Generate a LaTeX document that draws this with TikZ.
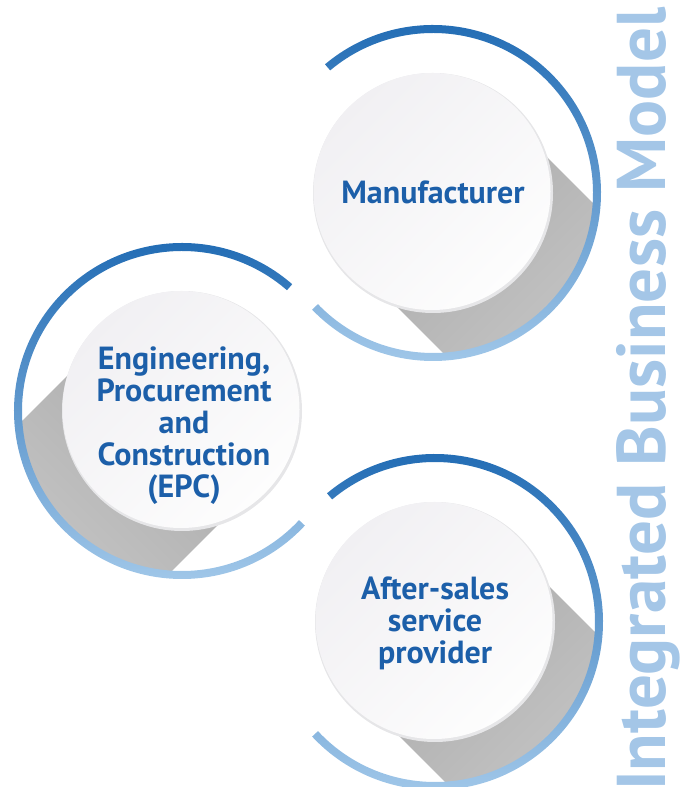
\documentclass[tikz,border=0pt]{standalone}
\usepackage{fontspec}
\setmainfont{PT Sans}
\definecolor{ringdark}{HTML}{1C68B2}
\definecolor{ringlight}{HTML}{A6CBEB}
\definecolor{labelblue}{HTML}{1C5FA9}
\definecolor{titleblue}{HTML}{A4C6E7}
\definecolor{discrim}{HTML}{E6E6E8}
\definecolor{disctop}{HTML}{F1F0F3}
\definecolor{discbottom}{HTML}{FDFDFD}

\begin{document}
\begin{tikzpicture}[x=1pt,y=1pt,
    rolelabel/.style={text=labelblue,font=\fontsize{32}{32}\selectfont\bfseries,align=center,inner sep=0pt},
    disc/.style={circle,minimum size=240pt,inner sep=0pt,fill=discrim}]

    \useasboundingbox (0,0) rectangle (687,787);

    % Long shadows, cut off by the rings
    \foreach \cx/\cy/\dir/\sh in {433/594/-45/45, 182/376/-135/-45, 435/165/-45/45} {
      \begin{scope}
        \clip (\cx,\cy) circle (163);
        \shade[top color=black!34,bottom color=black!22,shading angle=\sh]
          (\cx,\cy) ++(\dir+90:106) -- ++(\dir:175) -- ++(\dir-90:212) -- ++(\dir+180:175) -- cycle;
      \end{scope}
    }

    % Open rings, dark at the top and light at the bottom
    \foreach \cx/\cy/\s/\e in {433/594/130/-136, 182/376/49/317, 435/165/130/-137} {
      \shade[top color=ringdark,bottom color=ringlight]
        (\cx,\cy) ++(\s:168) arc[start angle=\s,end angle=\e,radius=168]
        -- ++(\e+180:8) arc[start angle=\e,end angle=\s,radius=160] -- cycle;
    }

    % White discs
    \node[disc] (manu)  at (433,594) {};
    \node[disc] (epc)   at (182,376) {};
    \node[disc] (after) at (435,165) {};
    \foreach \d in {manu,epc,after} {
      \shade[top color=disctop,bottom color=discbottom,shading angle=45]
        ([shift={(-1,1.5)}]\d.center) circle (118.5);
    }

    % Labels
    \node[rolelabel] (manutext)  at (433,595) {Manufacturer};
    \node[rolelabel] (epctext)   at (184,361) {Engineering,\\Procurement\\and\\Construction\\(EPC)};
    \node[rolelabel] (aftertext) at (435,164) {After-sales\\service\\provider};

    % Vertical title
    \node[text=titleblue,font=\fontsize{69}{69}\selectfont\bfseries,rotate=90,anchor=base west,inner sep=0pt]
      (title) at (665,-4) {Integrated Business Model};

  \end{tikzpicture}
\end{document}
